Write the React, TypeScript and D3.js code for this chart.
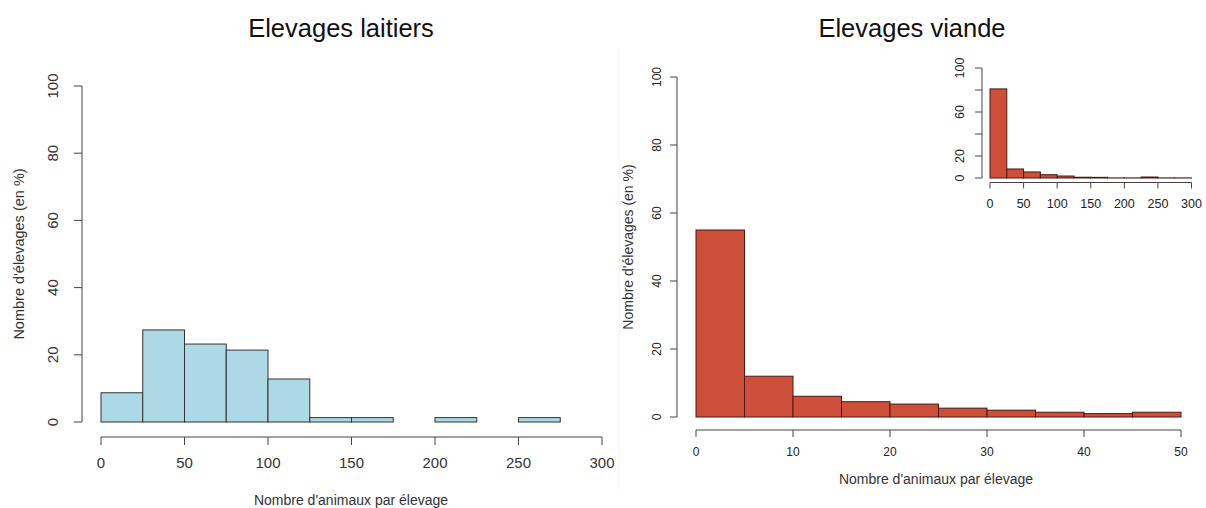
import React from "react";
import * as d3 from "d3";

// Elevages laitiers : classes de 25 animaux, % d'élevages
const laitiersBreaks = [0, 25, 50, 75, 100, 125, 150, 175, 200, 225, 250, 275, 300, 325];
const laitiersPct = [8.7, 27.4, 23.2, 21.4, 12.8, 1.3, 1.3, 0, 1.3, 0, 1.3, 0, 0];

// Elevages viande, zoom 0-50 : classes de 5
const viandeBreaks = [0, 5, 10, 15, 20, 25, 30, 35, 40, 45, 50];
const viandePct = [55, 12, 6.1, 4.5, 3.8, 2.6, 2.0, 1.4, 1.0, 1.4];

// Elevages viande, vue complète (encart) : classes de 25
const insetBreaks = [0, 25, 50, 75, 100, 125, 150, 175, 200, 225, 250, 275, 300, 325];
const insetPct = [81, 8.2, 5.5, 3, 1.8, 0.7, 0.6, 0.1, 0.1, 0.9, 0.1, 0.1, 0];

const yTicks = [0, 20, 40, 60, 80, 100];
const insetYLabels = [0, 20, 60, 100];
const laitiersXTicks = [0, 50, 100, 150, 200, 250, 300];
const viandeXTicks = [0, 10, 20, 30, 40, 50];
const insetXTicks = [0, 50, 100, 150, 200, 250, 300];

const FONT = "'Liberation Sans', Arial, sans-serif";
const NARROW = "'Liberation Sans Narrow', 'Liberation Sans', Arial, sans-serif";
const AXIS = "#444";

const Bars = ({ breaks, pct, x, y, fill, stroke }) => (
  <g>
    {pct.map((p, i) => (
      <rect
        key={i}
        x={x(breaks[i])}
        y={y(p)}
        width={x(breaks[i + 1]) - x(breaks[i])}
        height={y(0) - y(p)}
        fill={fill}
        stroke={stroke}
        strokeWidth={1}
      />
    ))}
  </g>
);

export default function App() {
  // left panel
  const lx = d3.scaleLinear().domain([0, 300]).range([101, 602]);
  const ly = d3.scaleLinear().domain([0, 100]).range([422, 86]);
  // right main
  const rx = d3.scaleLinear().domain([0, 50]).range([696, 1181]);
  const ry = d3.scaleLinear().domain([0, 100]).range([417, 77]);
  // inset
  const ix = d3.scaleLinear().domain([0, 300]).range([990, 1191.5]);
  const iy = d3.scaleLinear().domain([0, 100]).range([178, 68]);

  return (
    <svg
      width={1206}
      height={508}
      style={{ position: "absolute", left: 0, top: 0, background: "#fff" }}
    >
      <defs>
        <clipPath id="clipL">
          <rect x={0} y={0} width={619} height={508} />
        </clipPath>
        <clipPath id="clipR">
          <rect x={619} y={0} width={581} height={508} />
        </clipPath>
      </defs>

      {/* faint border between the two pictures */}
      <line x1={619.5} x2={619.5} y1={48} y2={490} stroke="#f4f4f4" />

      {/* ---------- Elevages laitiers ---------- */}
      <text x={341} y={37} textAnchor="middle" fontFamily={FONT} fontSize={25.5} fill="#111">
        Elevages laitiers
      </text>
      <g clipPath="url(#clipL)">
        <Bars breaks={laitiersBreaks} pct={laitiersPct} x={lx} y={ly} fill="#add8e6" stroke="#333" />
      </g>
      <line x1={82} x2={82} y1={ly(100)} y2={ly(0)} stroke={AXIS} />
      {yTicks.map((t) => (
        <g key={t}>
          <line x1={74} x2={82} y1={ly(t)} y2={ly(t)} stroke={AXIS} />
          <text
            transform={`translate(53,${ly(t)}) rotate(-90)`}
            textAnchor="middle"
            dy="0.35em"
            fontFamily={FONT}
            fontSize={15}
            fill="#333"
          >
            {t}
          </text>
        </g>
      ))}
      <text
        transform="translate(19,254) rotate(-90)"
        textAnchor="middle"
        dy="0.35em"
        fontFamily={FONT}
        fontSize={14.5}
        fill="#333"
      >
        Nombre d'élevages (en %)
      </text>
      <line x1={lx(0)} x2={lx(300)} y1={437} y2={437} stroke={AXIS} />
      {laitiersXTicks.map((t) => (
        <g key={t}>
          <line x1={lx(t)} x2={lx(t)} y1={437} y2={445} stroke={AXIS} />
          <text x={lx(t)} y={463} dy="0.35em" textAnchor="middle" fontFamily={FONT} fontSize={15} fill="#333">
            {t}
          </text>
        </g>
      ))}
      <text x={351} y={500} dy="0.35em" textAnchor="middle" fontFamily={FONT} fontSize={14} fill="#333">
        Nombre d'animaux par élevage
      </text>

      {/* ---------- Elevages viande ---------- */}
      <text x={912} y={37} textAnchor="middle" fontFamily={FONT} fontSize={25.5} fill="#111">
        Elevages viande
      </text>
      <g clipPath="url(#clipR)">
        <Bars breaks={viandeBreaks} pct={viandePct} x={rx} y={ry} fill="#cd4f39" stroke="#4a1a12" />
      </g>
      <line x1={677} x2={677} y1={ry(100)} y2={ry(0)} stroke={AXIS} />
      {yTicks.map((t) => (
        <g key={t}>
          <line x1={670} x2={677} y1={ry(t)} y2={ry(t)} stroke={AXIS} />
          <text
            transform={`translate(657,${ry(t)}) rotate(-90)`}
            textAnchor="middle"
            dy="0.35em"
            fontFamily={NARROW}
            fontSize={12}
            fill="#222"
          >
            {t}
          </text>
        </g>
      ))}
      <text
        transform="translate(628,247) rotate(-90)"
        textAnchor="middle"
        dy="0.35em"
        fontFamily={FONT}
        fontSize={14}
        fill="#333"
      >
        Nombre d'élevages (en %)
      </text>
      <line x1={rx(0)} x2={rx(50)} y1={430} y2={430} stroke={AXIS} />
      {viandeXTicks.map((t) => (
        <g key={t}>
          <line x1={rx(t)} x2={rx(t)} y1={430} y2={437} stroke={AXIS} />
          <text x={rx(t)} y={452} dy="0.35em" textAnchor="middle" fontFamily={NARROW} fontSize={12} fill="#222">
            {t}
          </text>
        </g>
      ))}
      <text x={936} y={479} dy="0.35em" textAnchor="middle" fontFamily={FONT} fontSize={14} fill="#333">
        Nombre d'animaux par élevage
      </text>

      {/* ---------- encart : distribution complète ---------- */}
      <g clipPath="url(#clipR)">
        <Bars breaks={insetBreaks} pct={insetPct} x={ix} y={iy} fill="#cd4f39" stroke="#4a1a12" />
      </g>
      <line x1={982} x2={982} y1={iy(100)} y2={iy(0)} stroke={AXIS} />
      {yTicks.map((t) => (
        <g key={t}>
          <line x1={975} x2={982} y1={iy(t)} y2={iy(t)} stroke={AXIS} />
          {insetYLabels.includes(t) && (
            <text
              transform={`translate(960,${iy(t)}) rotate(-90)`}
              textAnchor="middle"
              dy="0.35em"
              fontFamily={NARROW}
              fontSize={12.5}
              fill="#222"
            >
              {t}
            </text>
          )}
        </g>
      ))}
      <line x1={ix(0)} x2={ix(300)} y1={182.5} y2={182.5} stroke={AXIS} />
      {insetXTicks.map((t) => (
        <g key={t}>
          <line x1={ix(t)} x2={ix(t)} y1={182.5} y2={188.5} stroke={AXIS} />
          <text x={ix(t)} y={204} dy="0.35em" textAnchor="middle" fontFamily={NARROW} fontSize={12.5} fill="#222">
            {t}
          </text>
        </g>
      ))}
    </svg>
  );
}
